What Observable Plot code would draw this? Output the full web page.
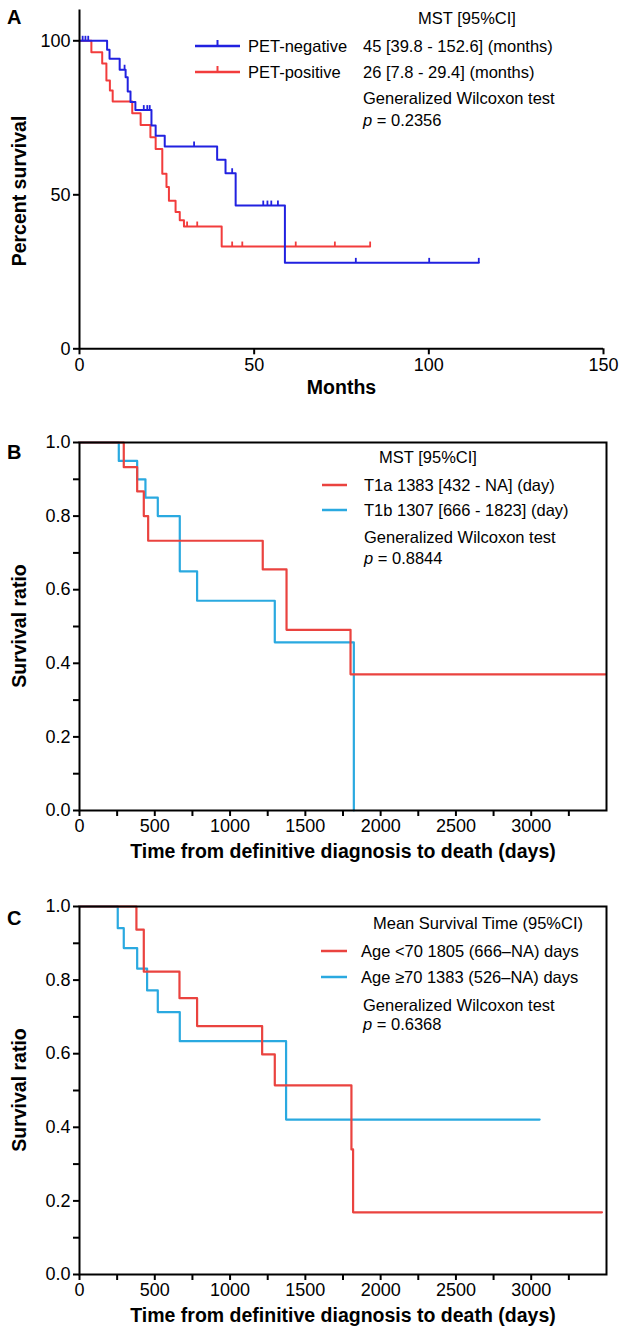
<!DOCTYPE html>
<html><head><meta charset="utf-8">
<script src="https://cdn.jsdelivr.net/npm/d3@7"></script>
<script src="https://cdn.jsdelivr.net/npm/@observablehq/plot@0.6"></script>
<style>
body{margin:0;background:#fff;}
#wrap{position:relative;width:620px;height:1337px;}
#wrap > div{position:absolute;left:0;}
</style></head><body>
<div id="wrap"><div id="pa" style="top:0px"></div><div id="pb" style="top:420px"></div><div id="pc" style="top:870px"></div></div>
<script>
// ---------- Panel A data (months, percent survival) ----------
const aNegTime = [0, 7.9, 8.6, 11.5, 13.2, 13.8, 14.6, 16.0, 20.6, 21.8, 24.4, 39.4, 41.8, 44.7, 58.8, 114.3];
const aNegSurv = [100, 97.1, 94.2, 90.6, 88.2, 83.5, 80.1, 77.5, 72.5, 69.2, 65.7, 61.4, 57.0, 46.5, 27.9, 27.9];
const aNegCensTime = [0.9, 1.7, 2.5, 12.9, 18.4, 19.4, 20.1, 32.8, 43.7, 52.6, 53.8, 54.9, 56.8, 79.1, 100.1, 114.3];
const aNegCensSurv = [100, 100, 100, 90.6, 77.5, 77.5, 77.5, 65.7, 57.0, 46.5, 46.5, 46.5, 46.5, 27.9, 27.9, 27.9];
const aPosTime = [0, 3.4, 6.5, 7.7, 8.7, 9.5, 15.1, 17.5, 20.3, 21.8, 23.7, 24.9, 25.6, 27.5, 28.7, 29.9, 40.7, 83.2];
const aPosSurv = [100, 96.3, 92.6, 87.1, 83.9, 80.3, 76.5, 72.7, 68.7, 64.9, 56.8, 52.5, 48.1, 44.4, 41.7, 39.7, 33.2, 33.2];
const aPosCensTime = [30.8, 33.7, 43.7, 46.6, 61.9, 73.1, 83.2];
const aPosCensSurv = [39.7, 39.7, 33.2, 33.2, 33.2, 33.2, 33.2];
const aXTicks = [0, 50, 100, 150];
const aYTicks = [0, 50, 100];

// ---------- Panel B data (days, survival ratio) ----------
const bT1aTime = [0, 294, 383, 427, 456, 1217, 1375, 1800, 3493];
const bT1aSurv = [1, 0.933, 0.867, 0.80, 0.733, 0.655, 0.491, 0.370, 0.370];
const bT1bTime = [0, 261, 383, 438, 520, 666, 781, 1297, 1822];
const bT1bSurv = [1, 0.95, 0.90, 0.85, 0.80, 0.65, 0.57, 0.457, 0];

// ---------- Panel C data ----------
const cYoungTime = [0, 378, 427, 664, 781, 1213, 1297, 1806, 1817, 3470];
const cYoungSurv = [1, 0.937, 0.823, 0.751, 0.675, 0.598, 0.514, 0.34, 0.169, 0.169];
const cOldTime = [0, 254, 294, 383, 449, 520, 666, 1372, 3056];
const cOldSurv = [1, 0.941, 0.887, 0.831, 0.772, 0.713, 0.634, 0.421, 0.421];

const dayMajor = [0, 500, 1000, 1500, 2000, 2500, 3000];
const dayMinor = [250, 750, 1250, 1750, 2250, 2750, 3250];
const ratioMajor = [0, 0.2, 0.4, 0.6, 0.8, 1.0];
const ratioMinor = [0.1, 0.3, 0.5, 0.7, 0.9];

// ---------- Texts ----------
const aLegend = {header: "MST [95%CI]", names: ["PET-negative", "PET-positive"], values: ["45 [39.8 - 152.6] (months)", "26 [7.8 - 29.4] (months)"], test: "Generalized Wilcoxon test", p: "0.2356"};
const bLegend = {header: "MST [95%CI]", labels: ["T1a 1383 [432 - NA] (day)", "T1b 1307 [666 - 1823] (day)"], test: "Generalized Wilcoxon test", p: "0.8844"};
const cLegend = {header: "Mean Survival Time (95%CI)", labels: ["Age <70 1805 (666\u2013NA) days", "Age \u226570 1383 (526\u2013NA) days"], test: "Generalized Wilcoxon test", p: "0.6368"};
const xTitleA = "Months", yTitleA = "Percent survival";
const xTitleBC = "Time from definitive diagnosis to death (days)", yTitleBC = "Survival ratio";

// ---------- Styling ----------
const FONT = "'Liberation Sans', Arial, Helvetica, sans-serif";
const BLUE_A = "#2121e0", RED_A = "#f23c3c";
const RED = "#ea433f", LBLUE = "#2aa9e0";
const LEG = 16.5, TICK = 18, TITLE = 19.5;

const rows = (t, s) => t.map((v, i) => ({t: v, s: s[i]}));
const censorSym = {draw(ctx, size) { const h = Math.sqrt(size / Math.PI); ctx.moveTo(0, 0); ctx.lineTo(0, -h); }};

function addLegendText(svg, x, y, str, anchor = "start") {
  svg.append("text").attr("x", x).attr("y", y).attr("dy", "0.35em")
    .attr("text-anchor", anchor).attr("font-family", FONT).attr("font-size", LEG).attr("fill", "#000").text(str);
}
function addP(svg, x, y, p) {
  const t = svg.append("text").attr("x", x).attr("y", y).attr("dy", "0.35em").attr("text-anchor", "start")
    .attr("font-family", FONT).attr("font-size", LEG).attr("fill", "#000");
  t.append("tspan").attr("font-style", "italic").text("p");
  t.append("tspan").text(" = " + p);
}
function addSwatch(svg, x1, x2, y, color, tick) {
  svg.append("line").attr("x1", x1).attr("x2", x2).attr("y1", y).attr("y2", y)
    .attr("stroke", color).attr("stroke-width", 2.5);
  if (tick) svg.append("line").attr("x1", (x1 + x2) / 2).attr("x2", (x1 + x2) / 2).attr("y1", y).attr("y2", y - 6)
    .attr("stroke", color).attr("stroke-width", 2);
}
function addLetter(svg, y, letter) {
  svg.append("text").attr("x", 7).attr("y", y).attr("dy", "0.35em").attr("text-anchor", "start").attr("font-family", FONT)
    .attr("font-size", 20).attr("font-weight", "bold").text(letter);
}
function addYTitle(svg, cy, str) {
  svg.append("text").attr("transform", `translate(19,${cy}) rotate(-90)`).attr("dy", "0.35em")
    .attr("text-anchor", "middle").attr("font-family", FONT).attr("font-size", TITLE)
    .attr("font-weight", "bold").attr("fill", "#000").text(str);
}

const baseStyle = {fontFamily: FONT, fontSize: TICK + "px", color: "#000", background: "#fff", overflow: "visible"};
const plain = d => String(d);

// ---------- Panel A ----------
const plotA = Plot.plot({
  width: 620, height: 420, marginLeft: 79, marginRight: 17, marginTop: 9.5, marginBottom: 71.7,
  style: baseStyle,
  x: {domain: [0, 150]}, y: {domain: [0, 110]},
  marks: [
    Plot.line(rows(aPosTime, aPosSurv), {x: "t", y: "s", curve: "step-after", stroke: RED_A, strokeWidth: 2}),
    Plot.line(rows(aNegTime, aNegSurv), {x: "t", y: "s", curve: "step-after", stroke: BLUE_A, strokeWidth: 2}),
    Plot.dot(rows(aPosCensTime, aPosCensSurv), {x: "t", y: "s", symbol: censorSym, r: 5, fill: "none", stroke: RED_A, strokeWidth: 1.8}),
    Plot.dot(rows(aNegCensTime, aNegCensSurv), {x: "t", y: "s", symbol: censorSym, r: 5, fill: "none", stroke: BLUE_A, strokeWidth: 1.8}),
    Plot.ruleX([0], {strokeWidth: 2}),
    Plot.ruleY([0], {strokeWidth: 2}),
    Plot.axisX({ticks: aXTicks, tickSize: 6, strokeWidth: 2, tickPadding: 3, tickFormat: plain, fontSize: TICK, label: null}),
    Plot.axisY({ticks: aYTicks, tickSize: 6, strokeWidth: 2, tickPadding: 3, tickFormat: plain, fontSize: TICK, label: null}),
    Plot.text([xTitleA], {text: d => d, frameAnchor: "bottom", dy: 45, fontWeight: "bold", fontSize: TITLE})
  ]
});
document.getElementById("pa").append(plotA);
{
  const svg = d3.select(plotA);
  addLetter(svg, 17, "A");
  addYTitle(svg, 191, yTitleA);
  addLegendText(svg, 467, 18, aLegend.header, "middle");
  addSwatch(svg, 195, 240, 46, BLUE_A, true);
  addSwatch(svg, 195, 240, 72, RED_A, true);
  addLegendText(svg, 248, 46, aLegend.names[0]);
  addLegendText(svg, 248, 72, aLegend.names[1]);
  addLegendText(svg, 363, 46, aLegend.values[0]);
  addLegendText(svg, 363, 72, aLegend.values[1]);
  addLegendText(svg, 363, 98, aLegend.test);
  addP(svg, 363, 120, aLegend.p);
}

// ---------- Panels B and C ----------
function kmPanel(series, marginTop, height) {
  return Plot.plot({
    width: 620, height, marginLeft: 79, marginRight: 14, marginTop, marginBottom: height - marginTop - 368,
    style: baseStyle,
    x: {domain: [0, 3500]}, y: {domain: [0, 1]},
    marks: [
      ...series.map(([data, color]) => Plot.line(data, {x: "t", y: "s", curve: "step-after", stroke: color, strokeWidth: 2.2})),
      Plot.frame({strokeWidth: 2}),
      Plot.axisX({ticks: dayMajor, tickSize: 6, strokeWidth: 2, tickPadding: 3, tickFormat: plain, fontSize: TICK, label: null}),
      Plot.axisX({ticks: dayMinor, tickSize: 6, strokeWidth: 2, tickFormat: () => "", label: null}),
      Plot.axisY({ticks: ratioMajor, tickSize: 6, strokeWidth: 2, tickPadding: 3, tickFormat: d3.format(".1f"), fontSize: TICK, label: null}),
      Plot.axisY({ticks: ratioMinor, tickSize: 6, strokeWidth: 2, tickFormat: () => "", label: null}),
      Plot.text([xTitleBC], {text: d => d, frameAnchor: "bottom", dy: 47, fontWeight: "bold", fontSize: TITLE})
    ]
  });
}

const plotB = kmPanel([[rows(bT1bTime, bT1bSurv), LBLUE], [rows(bT1aTime, bT1aSurv), RED]], 22, 450);
document.getElementById("pb").append(plotB);
{
  const svg = d3.select(plotB);
  addLetter(svg, 32, "B");
  addYTitle(svg, 206, yTitleBC);
  addLegendText(svg, 428, 37, bLegend.header, "middle");
  addSwatch(svg, 322, 347, 65, RED, false);
  addSwatch(svg, 322, 347, 90, LBLUE, false);
  addLegendText(svg, 364, 65, bLegend.labels[0]);
  addLegendText(svg, 364, 90, bLegend.labels[1]);
  addLegendText(svg, 364, 117, bLegend.test);
  addP(svg, 364, 138, bLegend.p);
}

const plotC = kmPanel([[rows(cOldTime, cOldSurv), LBLUE], [rows(cYoungTime, cYoungSurv), RED]], 36, 467);
document.getElementById("pc").append(plotC);
{
  const svg = d3.select(plotC);
  addLetter(svg, 48, "C");
  addYTitle(svg, 220, yTitleBC);
  addLegendText(svg, 373, 53, cLegend.header);
  addSwatch(svg, 321, 347, 81, RED, false);
  addSwatch(svg, 321, 347, 107, LBLUE, false);
  addLegendText(svg, 361, 81, cLegend.labels[0]);
  addLegendText(svg, 361, 107, cLegend.labels[1]);
  addLegendText(svg, 363, 135, cLegend.test);
  addP(svg, 363, 154, cLegend.p);
}
</script>
</body></html>
